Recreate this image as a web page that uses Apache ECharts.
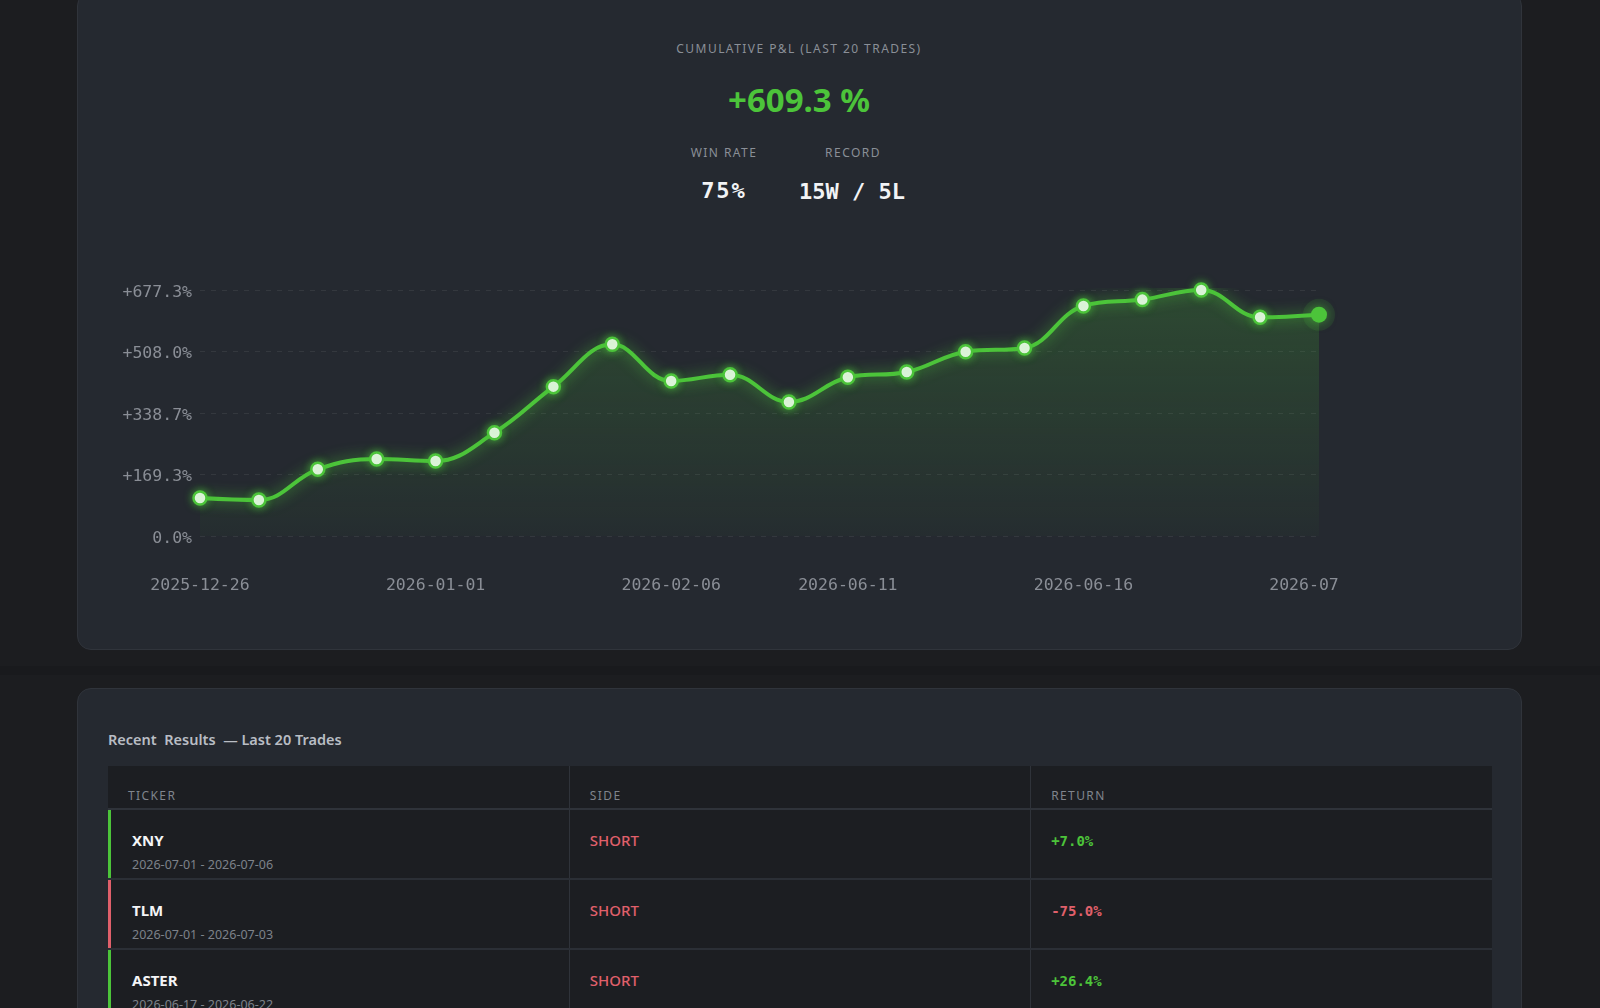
<!DOCTYPE html>
<html>
<head>
<meta charset="utf-8">
<script src="https://cdn.jsdelivr.net/npm/echarts@6/dist/echarts.min.js"></script>
<style>
  html, body { margin: 0; padding: 0; }
  body { width: 1600px; height: 1008px; overflow: hidden; background: #1c1d20; position: relative; font-family: "Noto Sans", sans-serif; }
  .card { position: absolute; left: 77px; width: 1443px; background: #252930; border: 1px solid #30343b; border-radius: 14px; }
  #top { top: -8px; height: 656px; }
  #bottom { top: 688px; height: 400px; }
  .band { position: absolute; left: 0; top: 666px; width: 1600px; height: 9px; background: #191a1d; }
  .cap { position: absolute; transform: translate(-50%, -50%); white-space: nowrap; }
  .lbl { font-size: 12px; letter-spacing: 1.45px; color: #8a8f97; }
  .big { font-size: 33px; font-weight: 700; color: #4cc43a; }
  .val { font-family: "DejaVu Sans Mono", monospace; font-weight: 700; font-size: 22px; color: #f2f3f5; }
  #main { position: absolute; left: 0; top: 0; width: 1600px; height: 649px; }
  .ttl { position: absolute; left: 108px; top: 739px; transform: translateY(-50%); font-size: 14.5px; font-weight: 600; color: #b9bdc4; }
  table { position: absolute; left: 108px; top: 766px; width: 1384px; border-collapse: collapse; background: #1c1e22; table-layout: fixed; }
  th { height: 43px; box-sizing: border-box; padding: 16px 0 0 20px; text-align: left; font-size: 12px; font-weight: 400; letter-spacing: 1.4px; color: #80858d; border-bottom: 2px solid #2f333a; }
  td { height: 70px; box-sizing: border-box; vertical-align: top; padding: 20px 0 0 20px; border-bottom: 2px solid #2b2f36; }
  td:first-child { padding-left: 24px; }
  th + th, td + td { border-left: 1px solid #2f333a; }
  .tk { font-size: 15px; font-weight: 700; color: #f4f5f7; line-height: 20px; }
  .dt { font-size: 12.5px; color: #7d828a; margin-top: 6px; line-height: 18px; }
  .sd { font-size: 15px; font-weight: 500; color: #e0606b; line-height: 20px; }
  .rt { font-family: "DejaVu Sans Mono", monospace; font-weight: 700; font-size: 14px; line-height: 20px; margin-top: 1px; }
</style>
</head>
<body>
<div class="card" id="top"></div>
<div class="band"></div>
<div class="card" id="bottom"></div>

<div class="cap lbl" style="left:799px;top:48px">CUMULATIVE P&amp;L (LAST 20 TRADES)</div>
<div class="cap big" style="left:799px;top:99px">+609.3 %</div>
<div class="cap lbl" style="left:724px;top:152px">WIN RATE</div>
<div class="cap lbl" style="left:853px;top:152px">RECORD</div>
<div class="cap val" style="left:724px;top:190px;letter-spacing:2px">75%</div>
<div class="cap val" style="left:852px;top:191px">15W / 5L</div>

<div id="main"></div>

<div class="ttl">Recent&nbsp; Results &nbsp;— Last 20 Trades</div>
<table id="trades">
  <thead><tr><th>TICKER</th><th>SIDE</th><th>RETURN</th></tr></thead>
  <tbody></tbody>
</table>

<script>
// cumulative P&L after each trade (oldest first)
var tradeDates = ["2025-12-26", "2025-12-28", "2025-12-29", "2025-12-30", "2026-01-01",
  "2026-01-05", "2026-01-12", "2026-01-20", "2026-02-06", "2026-02-14", "2026-03-02",
  "2026-06-11", "2026-06-12", "2026-06-13", "2026-06-15", "2026-06-16", "2026-06-19",
  "2026-06-22", "2026-07-03", "2026-07"];
var cumPnl = [104.6, 99.1, 183.6, 212.0, 206.5, 284.5, 411.2, 527.7, 426.8, 444.2,
  369.0, 436.9, 451.5, 507.5, 517.6, 633.3, 650.9, 677.3, 602.3, 609.3];
var xLabelIdx = [0, 4, 8, 11, 15, 19];
var yTickLabels = ["0.0%", "+169.3%", "+338.7%", "+508.0%", "+677.3%"];

// latest trades (newest first)
var tickers = ["XNY", "TLM", "ASTER"];
var sides = ["SHORT", "SHORT", "SHORT"];
var ranges = ["2026-07-01 - 2026-07-06", "2026-07-01 - 2026-07-03", "2026-06-17 - 2026-06-22"];
var returns = [7.0, -75.0, 26.4];

var GREEN = "#4cc43a";
var RED = "#e0606b";

var tbody = document.querySelector("#trades tbody");
tickers.forEach(function (t, i) {
  var c = returns[i] >= 0 ? GREEN : RED;
  var tr = document.createElement("tr");
  tr.innerHTML =
    '<td style="box-shadow: inset 3px 0 0 ' + c + '"><div class="tk">' + t + '</div><div class="dt">' + ranges[i] + '</div></td>' +
    '<td><div class="sd">' + sides[i] + '</div></td>' +
    '<td><div class="rt" style="color:' + c + '">' + (returns[i] >= 0 ? "+" : "") + returns[i].toFixed(1) + '%</div></td>';
  tbody.appendChild(tr);
});

var chartDom = document.getElementById("main");
var myChart = echarts.init(chartDom);
var yMax = Math.max.apply(null, cumPnl);
var lastIdx = cumPnl.length - 1;

var seriesData = cumPnl.map(function (v, i) {
  if (i !== lastIdx) return v;
  return {
    value: v,
    symbolSize: 16,
    itemStyle: { color: GREEN, borderWidth: 0, shadowBlur: 10, shadowColor: "rgba(76,196,58,0.6)" },
  };
});

var option = {
  animation: false,
  grid: { left: 200, right: 281, top: 290, bottom: 113, containLabel: false },
  xAxis: {
    type: "category",
    boundaryGap: false,
    data: tradeDates,
    axisLine: { show: false },
    axisTick: { show: false },
    axisLabel: {
      margin: 41,
      color: "#8a8e96",
      fontFamily: "DejaVu Sans Mono",
      fontSize: 16.5,
      interval: function (i) { return xLabelIdx.indexOf(i) >= 0; },
      formatter: function (v, i) { return i === lastIdx ? "{last|" + v + "}" : v; },
      rich: { last: { color: "#8a8e96", fontFamily: "DejaVu Sans Mono", fontSize: 16.5, padding: [0, 30, 0, 0] } },
    },
  },
  yAxis: {
    type: "value",
    min: 0,
    max: yMax,
    interval: yMax / 4,
    axisLine: { show: false },
    axisTick: { show: false },
    axisLabel: {
      margin: 8,
      color: "#8a8e96",
      fontFamily: "DejaVu Sans Mono",
      fontSize: 16.5,
      formatter: function (v, i) { return "{y|" + yTickLabels[i] + "}"; },
      rich: { y: { color: "#8a8e96", fontFamily: "DejaVu Sans Mono", fontSize: 16.5, padding: [5, 0, 0, 0] } },
    },
    splitLine: { lineStyle: { color: "rgba(255,255,255,0.07)", type: [5, 6] } },
  },
  series: [
    {
      type: "scatter",
      data: [[lastIdx, cumPnl[lastIdx]]],
      symbolSize: 32,
      itemStyle: { color: "rgba(76,196,58,0.14)" },
      silent: true,
      z: 1,
    },
    {
      type: "line",
      data: seriesData,
      smooth: 0.4,
      symbol: "circle",
      symbolSize: 13,
      showAllSymbol: true,
      lineStyle: { width: 4, color: GREEN, shadowColor: "rgba(76,196,58,0.75)", shadowBlur: 14 },
      itemStyle: { color: "#ffffff", borderColor: GREEN, borderWidth: 2.5, shadowColor: "rgba(76,196,58,0.7)", shadowBlur: 8 },
      areaStyle: {
        color: new echarts.graphic.LinearGradient(0, 0, 0, 1, [
          { offset: 0, color: "rgba(76,196,58,0.30)" },
          { offset: 1, color: "rgba(76,196,58,0.04)" },
        ]),
      },
      z: 3,
    },
  ],
};
option && myChart.setOption(option);
</script>
</body>
</html>
